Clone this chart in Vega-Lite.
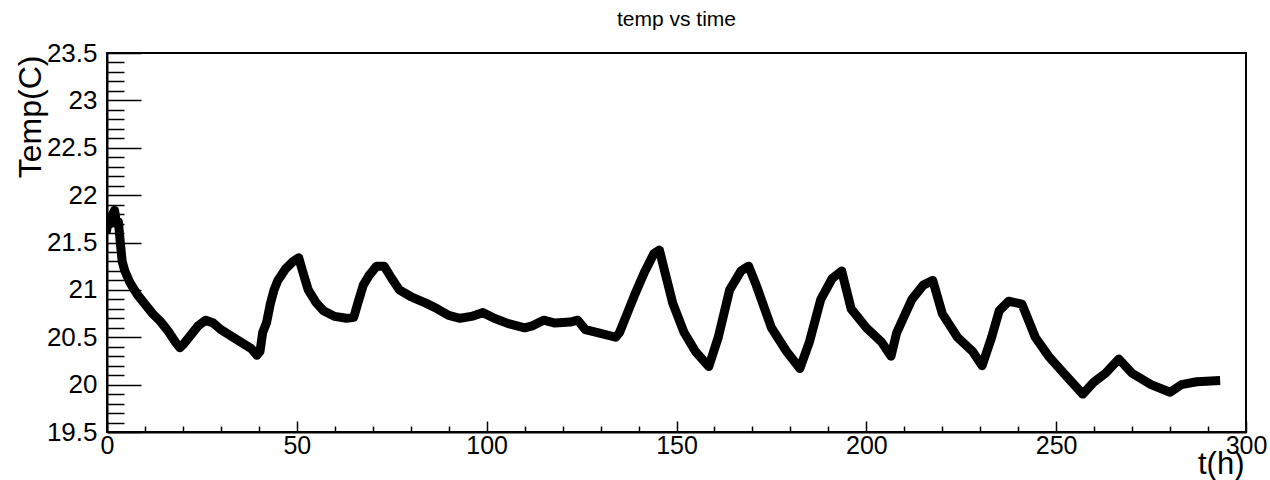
{
  "$schema": "https://vega.github.io/schema/vega-lite/v6.json",
  "width": 1139,
  "height": 379,
  "autosize": {"type": "none"},
  "padding": {"left": 107, "top": 53, "right": 24, "bottom": 48},
  "background": "white",
  "config": {
    "view": {"stroke": "black", "strokeWidth": 2},
    "font": "Liberation Sans"
  },
  "title": {
    "text": "temp vs time",
    "fontSize": 21,
    "fontWeight": "normal",
    "font": "Liberation Sans",
    "anchor": "middle",
    "offset": 10,
    "color": "black"
  },
  "data": {
    "values": [
      {"t": 0, "T": 21.65}, {"t": 0.5, "T": 21.75}, {"t": 1, "T": 21.7}, {"t": 1.5, "T": 21.8},
      {"t": 2, "T": 21.84}, {"t": 2.5, "T": 21.7}, {"t": 3, "T": 21.72}, {"t": 3.5, "T": 21.5},
      {"t": 4, "T": 21.3}, {"t": 4.7, "T": 21.2}, {"t": 6, "T": 21.08}, {"t": 8, "T": 20.95},
      {"t": 10, "T": 20.85}, {"t": 12, "T": 20.75}, {"t": 14, "T": 20.67}, {"t": 16, "T": 20.57},
      {"t": 18, "T": 20.45}, {"t": 19.2, "T": 20.39}, {"t": 20, "T": 20.42}, {"t": 22, "T": 20.52},
      {"t": 24, "T": 20.62}, {"t": 26, "T": 20.68}, {"t": 28, "T": 20.65}, {"t": 30, "T": 20.58},
      {"t": 32, "T": 20.53}, {"t": 34, "T": 20.48}, {"t": 36, "T": 20.43}, {"t": 38, "T": 20.38},
      {"t": 39.5, "T": 20.31}, {"t": 40.3, "T": 20.35}, {"t": 41, "T": 20.55}, {"t": 42, "T": 20.65},
      {"t": 43, "T": 20.85}, {"t": 44, "T": 21.0}, {"t": 45, "T": 21.1}, {"t": 47, "T": 21.22},
      {"t": 49, "T": 21.3}, {"t": 50.5, "T": 21.34}, {"t": 51.5, "T": 21.2}, {"t": 53, "T": 21.0},
      {"t": 55, "T": 20.87}, {"t": 57, "T": 20.78}, {"t": 60, "T": 20.72}, {"t": 63, "T": 20.7},
      {"t": 65, "T": 20.71}, {"t": 66, "T": 20.85}, {"t": 67.5, "T": 21.05}, {"t": 69, "T": 21.15},
      {"t": 71, "T": 21.25}, {"t": 73, "T": 21.25}, {"t": 75, "T": 21.12}, {"t": 77, "T": 21.0},
      {"t": 80, "T": 20.93}, {"t": 84, "T": 20.86}, {"t": 87, "T": 20.8}, {"t": 90, "T": 20.73},
      {"t": 93, "T": 20.7}, {"t": 96, "T": 20.72}, {"t": 99, "T": 20.76}, {"t": 102, "T": 20.7},
      {"t": 106, "T": 20.64}, {"t": 110, "T": 20.6}, {"t": 112, "T": 20.62}, {"t": 115, "T": 20.68},
      {"t": 118, "T": 20.65}, {"t": 122, "T": 20.66}, {"t": 124, "T": 20.68}, {"t": 126, "T": 20.58},
      {"t": 130, "T": 20.54}, {"t": 134, "T": 20.5}, {"t": 135, "T": 20.55}, {"t": 137, "T": 20.75},
      {"t": 139, "T": 20.95}, {"t": 141.5, "T": 21.18}, {"t": 144, "T": 21.38}, {"t": 145.5, "T": 21.42},
      {"t": 147, "T": 21.18}, {"t": 149, "T": 20.86}, {"t": 152, "T": 20.55}, {"t": 155, "T": 20.35},
      {"t": 158.5, "T": 20.19}, {"t": 161, "T": 20.5}, {"t": 164, "T": 21.0}, {"t": 167, "T": 21.2},
      {"t": 169, "T": 21.25}, {"t": 171, "T": 21.05}, {"t": 175, "T": 20.6}, {"t": 179, "T": 20.35},
      {"t": 182.5, "T": 20.17}, {"t": 185, "T": 20.45}, {"t": 188, "T": 20.9}, {"t": 191, "T": 21.12},
      {"t": 193.5, "T": 21.2}, {"t": 196, "T": 20.8}, {"t": 200, "T": 20.6}, {"t": 204, "T": 20.45},
      {"t": 206.5, "T": 20.3}, {"t": 208, "T": 20.55}, {"t": 212, "T": 20.9}, {"t": 215, "T": 21.05},
      {"t": 217.5, "T": 21.1}, {"t": 220, "T": 20.75}, {"t": 224, "T": 20.5}, {"t": 228, "T": 20.35},
      {"t": 230.5, "T": 20.2}, {"t": 233, "T": 20.5}, {"t": 235, "T": 20.78}, {"t": 237.5, "T": 20.88},
      {"t": 241, "T": 20.85}, {"t": 244.5, "T": 20.5}, {"t": 248, "T": 20.3}, {"t": 252, "T": 20.12},
      {"t": 257, "T": 19.9}, {"t": 260, "T": 20.03}, {"t": 263, "T": 20.12}, {"t": 266.5, "T": 20.27},
      {"t": 270, "T": 20.12}, {"t": 275, "T": 20.0}, {"t": 280, "T": 19.92}, {"t": 283, "T": 20.0},
      {"t": 287, "T": 20.03}, {"t": 292, "T": 20.04}
    ]
  },
  "mark": {"type": "line", "color": "black", "strokeWidth": 9, "strokeJoin": "round", "strokeCap": "square", "clip": true},
  "encoding": {
    "x": {
      "field": "t",
      "type": "quantitative",
      "scale": {"domain": [0, 300], "nice": false, "zero": false},
      "axis": {
        "title": "t(h)",
        "titleFont": "Liberation Sans",
        "titleFontSize": 31,
        "titleFontWeight": "normal",
        "titleColor": "black",
        "titleAlign": "right",
        "titleBaseline": "middle",
        "titleX": 1137,
        "titleY": 32,
        "values": [0,10,20,30,40,50,60,70,80,90,100,110,120,130,140,150,160,170,180,190,200,210,220,230,240,250,260,270,280,290,300],
        "labelExpr": "datum.value % 50 === 0 ? format(datum.value, 'd') : ''",
        "labelFont": "Liberation Sans",
        "labelFontSize": 25,
        "labelColor": "black",
        "labelFlush": false,
        "labelOverlap": false,
        "labelPadding": 12,
        "domain": true,
        "domainColor": "black",
        "domainWidth": 2,
        "tickColor": "black",
        "tickWidth": 1.5,
        "tickSize": {"condition": {"test": "datum.value % 50 === 0", "value": -11}, "value": -6},
        "grid": false
      }
    },
    "y": {
      "field": "T",
      "type": "quantitative",
      "scale": {"domain": [19.5, 23.5], "nice": false, "zero": false},
      "axis": {
        "title": "Temp(C)",
        "titleFont": "Liberation Sans",
        "titleFontSize": 32,
        "titleFontWeight": "normal",
        "titleColor": "black",
        "titleAngle": -90,
        "titleAlign": "right",
        "titleBaseline": "middle",
        "titleX": -77,
        "titleY": 2,
        "values": [19.5,19.6,19.7,19.8,19.9,20,20.1,20.2,20.3,20.4,20.5,20.6,20.7,20.8,20.9,21,21.1,21.2,21.3,21.4,21.5,21.6,21.7,21.8,21.9,22,22.1,22.2,22.3,22.4,22.5,22.6,22.7,22.8,22.9,23,23.1,23.2,23.3,23.4,23.5],
        "labelExpr": "abs(datum.value*2 - round(datum.value*2)) < 0.001 ? format(datum.value, '.1~f') : ''",
        "labelFont": "Liberation Sans",
        "labelFontSize": 26,
        "labelColor": "black",
        "labelFlush": false,
        "labelOverlap": false,
        "labelPadding": 44,
        "domain": true,
        "domainColor": "black",
        "domainWidth": 2,
        "tickColor": "black",
        "tickWidth": 1.5,
        "tickSize": {"condition": {"test": "abs(datum.value*2 - round(datum.value*2)) < 0.001", "value": -34}, "value": -17},
        "grid": false
      }
    }
  }
}
